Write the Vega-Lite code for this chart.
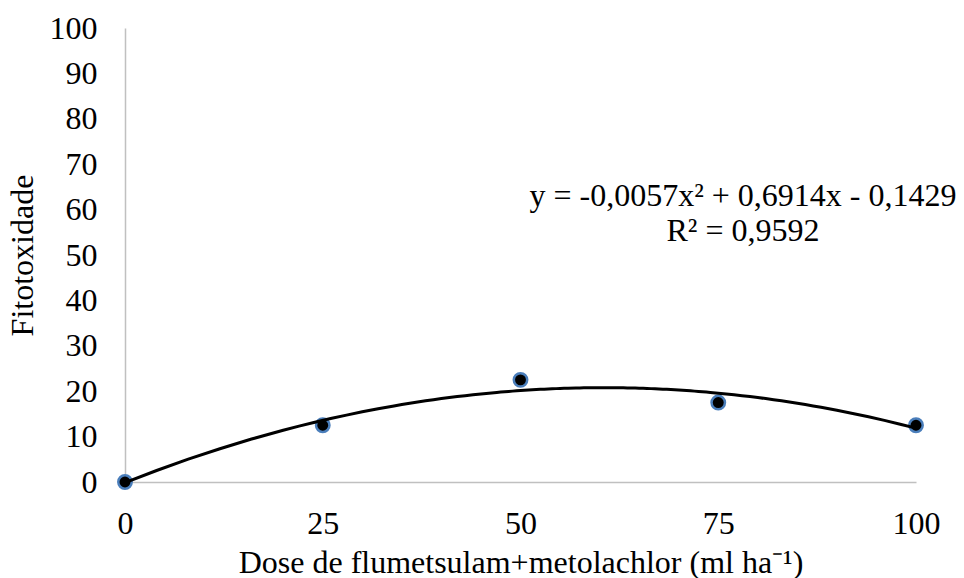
{
  "$schema": "https://vega.github.io/schema/vega-lite/v6.json",
  "autosize": {"type": "none"},
  "width": 791,
  "height": 454,
  "padding": {"left": 125, "top": 28, "right": 48, "bottom": 96},
  "background": "white",
  "config": {
    "view": {"stroke": null},
    "font": "Liberation Serif",
    "axis": {
      "domainColor": "#c0c0c0",
      "domainWidth": 1.5,
      "ticks": false,
      "grid": false,
      "labelFlush": false,
      "labelFont": "Liberation Serif",
      "labelFontSize": 32,
      "labelColor": "black",
      "titleFont": "Liberation Serif",
      "titleFontSize": 32,
      "titleFontWeight": "normal",
      "titleColor": "black"
    }
  },
  "datasets": {
    "pts": [
      {"dose": 0, "fito": 0},
      {"dose": 25, "fito": 12.5},
      {"dose": 50, "fito": 22.5},
      {"dose": 75, "fito": 17.5},
      {"dose": 100, "fito": 12.5}
    ],
    "eq": [
      {"dose": 78.13, "fito": 60.8, "label": ["y = -0,0057x² + 0,6914x - 0,1429", "R² = 0,9592"]}
    ]
  },
  "layer": [
    {
      "data": {"name": "pts"},
      "mark": {"type": "point", "filled": true, "fill": "black", "stroke": "#4a7ebb", "strokeWidth": 2.5, "size": 180, "opacity": 1, "strokeOpacity": 1},
      "encoding": {
        "x": {
          "field": "dose", "type": "quantitative",
          "scale": {"domain": [0, 100], "nice": false, "zero": false},
          "axis": {"values": [0, 25, 50, 75, 100], "labelPadding": 26, "title": "Dose de flumetsulam+metolachlor (ml ha⁻¹)", "titlePadding": 8}
        },
        "y": {
          "field": "fito", "type": "quantitative",
          "scale": {"domain": [0, 100], "nice": false},
          "axis": {"values": [0, 10, 20, 30, 40, 50, 60, 70, 80, 90, 100], "labelPadding": 28, "title": "Fitotoxidade", "titlePadding": 10}
        }
      }
    },
    {
      "data": {"name": "pts"},
      "transform": [
        {"regression": "fito", "on": "dose", "method": "poly", "order": 2, "extent": [0, 100]}
      ],
      "mark": {"type": "line", "color": "black", "strokeWidth": 3},
      "encoding": {
        "x": {"field": "dose", "type": "quantitative"},
        "y": {"field": "fito", "type": "quantitative"}
      }
    },
    {
      "data": {"name": "eq"},
      "mark": {"type": "text", "align": "center", "baseline": "alphabetic", "fontSize": 32, "font": "Liberation Serif", "color": "black", "lineHeight": 35},
      "encoding": {
        "x": {"field": "dose", "type": "quantitative"},
        "y": {"field": "fito", "type": "quantitative"},
        "text": {"field": "label"}
      }
    }
  ]
}
